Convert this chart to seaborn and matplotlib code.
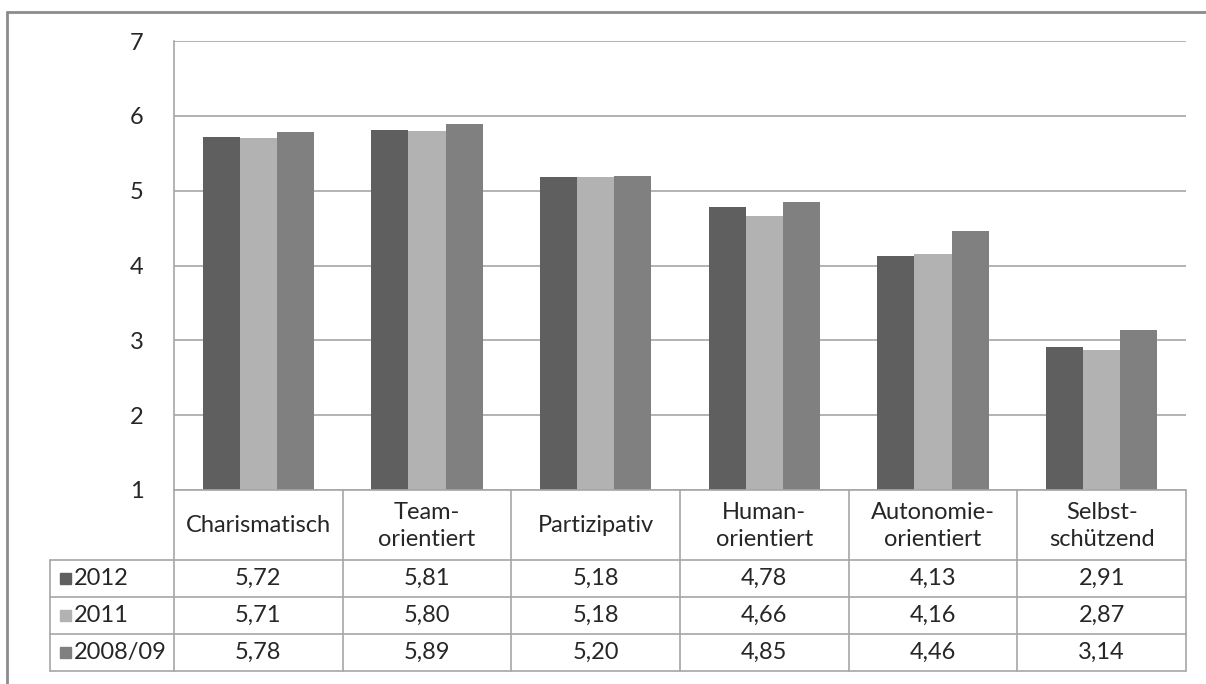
import matplotlib
matplotlib.use("Agg")
import matplotlib.pyplot as plt
import seaborn as sns
import pandas as pd
from matplotlib.patches import Rectangle
from matplotlib.lines import Line2D

categories = ["Charismatisch", "Team-\norientiert", "Partizipativ",
              "Human-\norientiert", "Autonomie-\norientiert", "Selbst-\nschützend"]
series = ["2012", "2011", "2008/09"]
v2012 = [5.72, 5.81, 5.18, 4.78, 4.13, 2.91]
v2011 = [5.71, 5.80, 5.18, 4.66, 4.16, 2.87]
v2008 = [5.78, 5.89, 5.20, 4.85, 4.46, 3.14]
yticks = [1, 2, 3, 4, 5, 6, 7]
colors = ["#5f5f5f", "#b2b2b2", "#808080"]

values = [v2012, v2011, v2008]
df = pd.DataFrame({
    "cat": categories * 3,
    "series": [s for s in series for _ in categories],
    "val": v2012 + v2011 + v2008,
})

sns.set_theme(style="white")
FONT = "Lato"
plt.rcParams["font.family"] = [FONT, "DejaVu Sans"]
FS = 17
TC = "#262626"

W, H = 1206, 684
fig = plt.figure(figsize=(W / 100, H / 100), dpi=100)
fig.patch.set_facecolor("white")

L, R, T, B = 174, 1186, 41, 490
ax = fig.add_axes([L / W, 1 - B / H, (R - L) / W, (B - T) / H])
sns.barplot(data=df, x="cat", y="val", hue="series", palette=colors,
            width=0.66, ax=ax, legend=False, saturation=1, zorder=3)
ax.set_ylim(1, 7)
ax.set_xlim(-0.5, len(categories) - 0.5)
ax.set_yticks(yticks)
ax.set_yticklabels([str(t) for t in yticks], fontsize=FS, color=TC)
ax.set_xticks([])
ax.set_xlabel("")
ax.set_ylabel("")
ax.tick_params(axis="y", length=0, pad=22)
for t in yticks:
    ax.axhline(t, color="#a6a6a6", lw=1.2, zorder=1)
for s in ["top", "right", "bottom"]:
    ax.spines[s].set_visible(False)
ax.spines["left"].set_color("#a6a6a6")
ax.spines["left"].set_linewidth(1.2)
for p in ax.patches:
    p.set_edgecolor("none")

# overlay in pixel coordinates for table and frame
ov = fig.add_axes([0, 0, 1, 1], zorder=5)
ov.set_xlim(0, W)
ov.set_ylim(H, 0)
ov.axis("off")
ov.patch.set_alpha(0)

lc = "#a6a6a6"
n = len(categories)
cw = (R - L) / n
rows = [560, 597, 634, 671]
tl = 50
ov.add_line(Line2D([L, R], [B, B], color=lc, lw=1.2))
for y in rows:
    ov.add_line(Line2D([tl, R], [y, y], color=lc, lw=1.2))
for k in range(n + 1):
    x = L + k * cw
    ov.add_line(Line2D([x, x], [B, rows[-1]], color=lc, lw=1.2))
ov.add_line(Line2D([tl, tl], [rows[0], rows[-1]], color=lc, lw=1.2))

for k, c in enumerate(categories):
    ov.text(L + (k + 0.5) * cw, (B + rows[0]) / 2 + 1, c, ha="center", va="center",
            fontsize=FS, color=TC, linespacing=1.3)
for i, (s, vals) in enumerate(zip(series, values)):
    yc = (rows[i] + rows[i + 1]) / 2
    ov.add_patch(Rectangle((60, yc - 6), 11, 11, color=colors[i]))
    ov.text(74, yc, s, ha="left", va="center", fontsize=FS, color=TC)
    for k, v in enumerate(vals):
        ov.text(L + (k + 0.5) * cw, yc, f"{v:.2f}".replace(".", ","),
                ha="center", va="center", fontsize=FS, color=TC)

# outer frame
ov.add_line(Line2D([7, W], [12, 12], color="#8c8c8c", lw=2))
ov.add_line(Line2D([7, 7], [12, H], color="#8c8c8c", lw=2))

fig.savefig("out.png", dpi=100)
